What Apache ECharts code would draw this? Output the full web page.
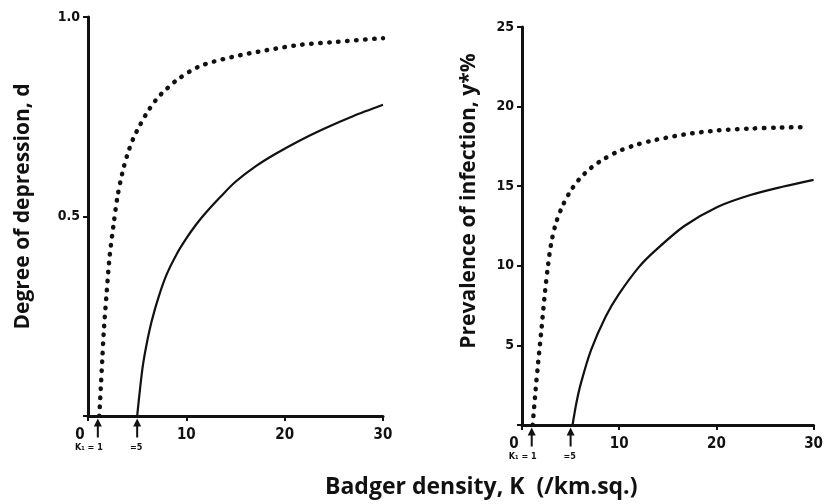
<!DOCTYPE html>
<html>
<head>
<meta charset="utf-8">
<script src="https://cdn.jsdelivr.net/npm/echarts@6/dist/echarts.min.js"></script>
<style>
  html, body { margin: 0; padding: 0; background: #fff; }
  #main { width: 826px; height: 504px; }
</style>
</head>
<body>
<div id="main"></div>
<script>
// 左图：抑制程度 d
var depDotK   = [1.15, 1.3, 1.45, 1.6, 1.9, 2.2, 2.6, 3.0, 3.5, 4.0, 4.6, 5.2, 6.0, 7.0, 8.0, 9.2, 11.4, 14.7, 18.2, 21.5, 24.9, 30];
var depDotVal = [0, 0.07, 0.14, 0.21, 0.31, 0.40, 0.48, 0.55, 0.61, 0.655, 0.695, 0.725, 0.76, 0.795, 0.82, 0.845, 0.877, 0.90, 0.917, 0.93, 0.937, 0.947];
var depSolK   = [5, 5.3, 5.6, 6, 6.5, 7.2, 8, 9, 10, 11, 12, 13.5, 15, 17, 19, 21.5, 24, 27, 30];
var depSolVal = [0, 0.07, 0.13, 0.185, 0.24, 0.30, 0.355, 0.405, 0.445, 0.48, 0.51, 0.55, 0.587, 0.625, 0.656, 0.69, 0.72, 0.752, 0.78];

// 右图：感染率 y*%
var prevDotK   = [1.1, 1.4, 1.66, 2.0, 2.34, 2.67, 3.0, 3.5, 4.2, 5.0, 5.9, 7.1, 8.4, 9.95, 11.5, 13.3, 16.7, 20.1, 23.5, 26.5, 29.5];
var prevDotVal = [0, 2.2, 3.9, 6.0, 8.2, 10.0, 11.4, 12.7, 13.8, 14.7, 15.45, 16.15, 16.7, 17.2, 17.55, 17.85, 18.25, 18.5, 18.62, 18.68, 18.72];
var prevSolK   = [5.2, 5.6, 6.05, 7.1, 8.6, 9.95, 12.0, 13.7, 16.7, 20.1, 23.5, 26.9, 30];
var prevSolVal = [0, 1.4, 2.6, 4.7, 6.8, 8.2, 9.9, 10.95, 12.5, 13.7, 14.45, 14.98, 15.4];

// K1 标记
var markerK = [1, 5];
var markerText = ['K\u2081 = 1', '=5'];

var xTicks = [0, 10, 20, 30];

var tickFont = 'Liberation Sans Narrow, DejaVu Sans Condensed, Liberation Sans, sans-serif';
var titleFont = 'Open Sans, Liberation Sans, sans-serif';
var arrowPath = 'path://M4,0 L8,8 L5,8 L5,19 L3,19 L3,8 L0,8 Z';

function pairs(xs, ys) {
    var res = [];
    for (var i = 0; i < xs.length; i++) {
        res.push([xs[i], ys[i]]);
    }
    return res;
}

function markers() {
    var res = [];
    for (var i = 0; i < markerK.length; i++) {
        res.push({
            coord: [markerK[i], 0],
            label: {
                formatter: markerText[i],
                offset: [i === 0 ? -9 : -1, 0]
            }
        });
    }
    return res;
}

function xAxisOf(idx) {
    return {
        type: 'value',
        gridIndex: idx,
        min: 0,
        max: 30,
        interval: 10,
        splitLine: { show: false },
        axisLine: { lineStyle: { color: '#111', width: 3 } },
        axisTick: { length: 5, lineStyle: { color: '#111', width: 2 } },
        axisLabel: {
            color: '#111',
            fontFamily: tickFont,
            fontWeight: 'bold',
            fontSize: 15,
            margin: 12,
            formatter: function (v) {
                return xTicks.indexOf(v) >= 0 ? (v === 0 ? '{z|0}' : String(v)) : '';
            },
            rich: {
                z: { fontFamily: tickFont, fontWeight: 'bold', fontSize: 15, color: '#111', padding: [0, 16, 0, 0] }
            }
        }
    };
}

function yAxisOf(idx, max, interval, name, gap, shift, digits) {
    return {
        type: 'value',
        gridIndex: idx,
        min: 0,
        max: max,
        interval: interval,
        name: name,
        nameLocation: 'middle',
        nameGap: gap,
        nameTextStyle: {
            color: '#111',
            fontFamily: titleFont,
            fontWeight: 'bold',
            fontSize: 21,
            padding: [0, 0, 0, shift]
        },
        splitLine: { show: false },
        axisLine: { lineStyle: { color: '#111', width: 3 } },
        axisTick: { length: 5, lineStyle: { color: '#111', width: 2 } },
        axisLabel: {
            color: '#111',
            fontFamily: tickFont,
            fontWeight: 'bold',
            fontSize: 14,
            margin: 8,
            formatter: function (v) {
                return v === 0 ? '' : v.toFixed(digits);
            }
        }
    };
}

function dotted(idx, data) {
    return {
        type: 'line',
        xAxisIndex: idx,
        yAxisIndex: idx,
        data: data,
        smooth: 0.3,
        showSymbol: false,
        silent: true,
        lineStyle: { color: '#111', width: 4.5, type: [0.5, 8.5], cap: 'round' }
    };
}

function solid(idx, data) {
    return {
        type: 'line',
        xAxisIndex: idx,
        yAxisIndex: idx,
        data: data,
        smooth: 0.3,
        showSymbol: false,
        silent: true,
        lineStyle: { color: '#111', width: 2.2 },
        markPoint: {
            symbol: arrowPath,
            symbolSize: [8, 19],
            symbolOffset: [0, 12],
            silent: true,
            itemStyle: { color: '#111' },
            label: {
                show: true,
                position: 'bottom',
                distance: 6,
                color: '#111',
                fontFamily: tickFont,
                fontWeight: 'bold',
                fontSize: 9
            },
            data: markers()
        }
    };
}

var myChart = echarts.init(document.getElementById('main'));

var option = {
    backgroundColor: '#fff',
    animation: false,
    title: {
        text: 'Badger density, K  (/km.sq.)',
        left: 320,
        top: 471,
        textStyle: {
            color: '#111',
            fontFamily: titleFont,
            fontWeight: 'bold',
            fontSize: 23
        }
    },
    grid: [
        { left: 88, top: 17, width: 295, height: 399 },
        { left: 522, top: 27, width: 295, height: 398 }
    ],
    xAxis: [xAxisOf(0), xAxisOf(1)],
    yAxis: [
        yAxisOf(0, 1, 0.5, 'Degree of depression, d', 54, 20, 1),
        yAxisOf(1, 25, 5, 'Prevalence of infection, y*%', 42, 50, 0)
    ],
    series: [
        dotted(0, pairs(depDotK, depDotVal)),
        solid(0, pairs(depSolK, depSolVal)),
        dotted(1, pairs(prevDotK, prevDotVal)),
        solid(1, pairs(prevSolK, prevSolVal))
    ]
};

myChart.setOption(option);
window.addEventListener('resize', function () {
    myChart.resize();
});
</script>
</body>
</html>
